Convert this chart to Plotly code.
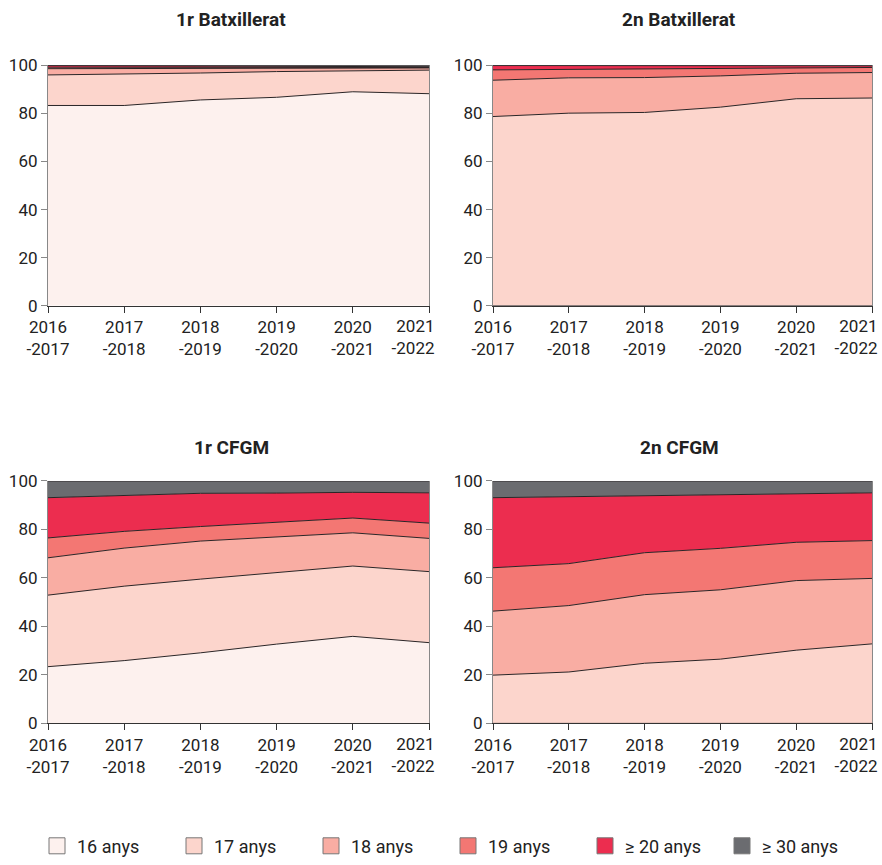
import plotly.graph_objects as go

categories = ["2016-2017", "2017-2018", "2018-2019", "2019-2020", "2020-2021", "2021-2022"]
tick_labels = ["2016<br>-2017", "2017<br>-2018", "2018<br>-2019", "2019<br>-2020", "2020<br>-2021", "2021<br>-2022"]
series_names = ["16 anys", "17 anys", "18 anys", "19 anys", "≥ 20 anys", "≥ 30 anys"]
panel_titles = ["1r Batxillerat", "2n Batxillerat", "1r CFGM", "2n CFGM"]

# 1r Batxillerat (%)
b1_16 = [83.3, 83.3, 85.6, 86.7, 89.0, 88.2]
b1_17 = [12.7, 13.0, 11.2, 10.7, 8.8, 9.8]
b1_18 = [2.6, 2.4, 2.1, 1.5, 1.2, 0.9]
b1_19 = [0.6, 0.5, 0.4, 0.3, 0.2, 0.2]
b1_20 = [0.7, 0.6, 0.4, 0.4, 0.3, 0.3]
b1_30 = [0.1, 0.2, 0.3, 0.4, 0.5, 0.6]

# 2n Batxillerat (%)
b2_16 = [0.0, 0.0, 0.0, 0.0, 0.0, 0.0]
b2_17 = [78.7, 80.1, 80.4, 82.6, 86.1, 86.4]
b2_18 = [15.1, 14.7, 14.5, 13.0, 10.6, 10.6]
b2_19 = [4.3, 3.5, 3.5, 3.0, 2.2, 2.1]
b2_20 = [1.8, 1.6, 1.5, 1.3, 0.9, 0.7]
b2_30 = [0.1, 0.1, 0.1, 0.1, 0.2, 0.2]

# 1r CFGM (%)
c1_16 = [23.4, 25.9, 29.1, 32.7, 35.9, 33.3]
c1_17 = [29.5, 30.7, 30.4, 29.5, 29.0, 29.3]
c1_18 = [15.4, 15.7, 15.7, 14.6, 13.7, 13.7]
c1_19 = [8.2, 6.9, 6.0, 6.1, 6.1, 6.3]
c1_20 = [16.6, 14.7, 13.7, 12.1, 10.6, 12.5]
c1_30 = [6.9, 6.1, 5.1, 5.0, 4.7, 4.9]

# 2n CFGM (%)
c2_16 = [0.0, 0.0, 0.0, 0.0, 0.0, 0.0]
c2_17 = [19.9, 21.2, 24.8, 26.5, 30.2, 32.8]
c2_18 = [26.4, 27.4, 28.3, 28.6, 28.7, 27.0]
c2_19 = [17.9, 17.3, 17.3, 17.1, 15.8, 15.6]
c2_20 = [28.9, 27.6, 23.5, 22.2, 20.2, 19.7]
c2_30 = [6.9, 6.5, 6.1, 5.6, 5.1, 4.9]

colors = ["#FDF1EE", "#FCD5CC", "#F9ADA3", "#F37773", "#EC2D4F", "#6B6C70"]

panels = [
    [b1_16, b1_17, b1_18, b1_19, b1_20, b1_30],
    [b2_16, b2_17, b2_18, b2_19, b2_20, b2_30],
    [c1_16, c1_17, c1_18, c1_19, c1_20, c1_30],
    [c2_16, c2_17, c2_18, c2_19, c2_20, c2_30],
]

W, H = 882, 865


def px(x):
    return x / W


def py(y):
    return 1 - y / H


xdoms = [[px(48), px(429)], [px(493), px(872)]]
ydoms = [[py(309), py(66)], [py(731), py(486)]]

fig = go.Figure()
FONT = "Roboto, 'Open Sans', sans-serif"
TICKFONT = dict(family=FONT, size=17, color="#222222")
n = len(categories)

for p, series in enumerate(panels):
    ax = "" if p == 0 else str(p + 1)
    for i, vals in enumerate(series):
        fig.add_trace(go.Scatter(
            x=categories, y=vals, name=series_names[i],
            mode="lines", stackgroup=f"g{p}",
            line=dict(color="#2a2526", width=1),
            fillcolor=colors[i], showlegend=False,
            xaxis="x" + ax, yaxis="y" + ax,
        ))
    col, row = p % 2, p // 2
    fig.layout["xaxis" + ax] = dict(
        domain=xdoms[col], anchor="y" + ax, type="category",
        range=[0, n - 1], tickvals=categories[:-1], ticktext=tick_labels[:-1],
        showgrid=False, showline=True, linecolor="#333333", linewidth=1.2,
        ticks="outside", ticklen=6, tickcolor="#333333", automargin=False,
        tickfont=TICKFONT, zeroline=False,
    )
    fig.layout["yaxis" + ax] = dict(
        domain=ydoms[row], anchor="x" + ax, range=[0, 100],
        tickvals=[0, 20, 40, 60, 80, 100],
        showgrid=False, showline=True, linecolor="#888888", linewidth=1.2, mirror=True,
        ticks="outside", ticklen=6, tickcolor="#888888", automargin=False,
        tickfont=TICKFONT, zeroline=False,
    )
    # overlay axis carrying the last (right-aligned) tick label
    ov = str(p + 5)
    fig.layout["xaxis" + ov] = dict(
        domain=xdoms[col], anchor="y" + ax, overlaying="x" + ax, type="linear",
        range=[0, n - 1], tickvals=[n - 1], ticktext=[tick_labels[-1]],
        ticks="outside", ticklen=6, tickcolor="#333333",
        ticklabelposition="outside left", ticklabelshift=6, ticklabelstandoff=5,
        ticklabeloverflow="allow",
        showgrid=False, showline=False, zeroline=False, automargin=False,
        tickfont=TICKFONT, side="bottom",
    )
    fig.add_trace(go.Scatter(
        x=[None], y=[None], mode="lines", showlegend=False, hoverinfo="skip",
        xaxis="x" + ov, yaxis="y" + ax,
    ))

# legend entries
for i, name in enumerate(series_names):
    fig.add_trace(go.Scatter(
        x=[None], y=[None], mode="markers", name=name,
        marker=dict(symbol="square", size=16, color=colors[i],
                    line=dict(color="#777777", width=1)),
        showlegend=True, xaxis="x", yaxis="y",
    ))

title_pos = [(231, 20), (679, 20), (231, 452), (679, 452)]
for t, (tx, ty) in zip(panel_titles, title_pos):
    fig.add_annotation(
        text=f"<b>{t}</b>", x=px(tx), y=py(ty), xref="paper", yref="paper",
        showarrow=False, xanchor="center", yanchor="middle",
        font=dict(family=FONT, size=19, color="#222222"),
    )

fig.update_layout(
    width=W, height=H,
    margin=dict(l=0, r=0, t=0, b=0),
    paper_bgcolor="white", plot_bgcolor="white",
    font=dict(family=FONT, color="#222222"),
    legend=dict(
        orientation="h", traceorder="normal",
        x=px(37), xanchor="left", y=py(855), yanchor="middle",
        entrywidth=92, entrywidthmode="pixels",
        font=dict(family=FONT, size=18, color="#222222"),
        itemclick=False,
    ),
)

fig.write_html(
    "out.html",
    config={"displayModeBar": False},
    post_script="document.body.style.margin='0';document.body.style.overflow='hidden';",
)
